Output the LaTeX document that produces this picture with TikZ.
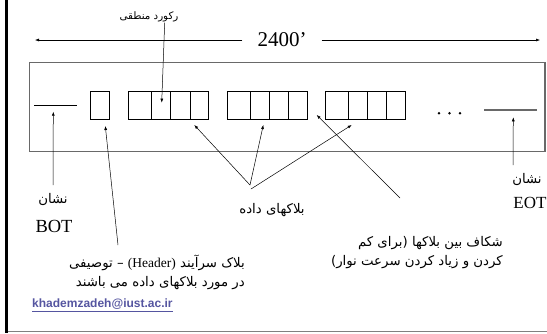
\documentclass[tikz,border=0pt]{standalone}
\usepackage{fontspec}
\setmainfont{Liberation Serif}
\newfontfamily\fa[Script=Arabic]{DejaVu Sans}
\newfontfamily\arial{Liberation Sans}
\TeXXeTstate=1
\usetikzlibrary{arrows.meta}
\definecolor{tapegray}{RGB}{105,105,105}
\definecolor{mailblue}{RGB}{85,85,160}
\begin{document}
\begin{tikzpicture}[x=1pt,y=-1pt,
  conn/.style={draw=black, line width=0.5pt, -{Latex[length=4pt,width=3pt]}},
  cellbox/.style={draw=black, line width=0.8pt, inner sep=0pt, minimum width=80pt, minimum height=28.3pt, anchor=north west},
  falbl/.style={inner sep=0pt, font=\fa\fontsize{13.3}{19}\selectfont},
  latlbl/.style={inner sep=0pt, font=\fontsize{17}{19}\selectfont},
]
\useasboundingbox (0,0) rectangle (547,333);
% frame
\draw[line width=3pt] (6.5,0) -- (6.5,333);
\draw[draw=gray, line width=1.5pt] (8,331.5) -- (547,331.5);
% tape
\draw[draw=tapegray, line width=1.5pt] (29.3,62.7) rectangle (545,151.7);
% length
\node[inner xsep=15pt, inner ysep=0pt, font=\fontsize{21}{24}\selectfont] (len) at (282,40) {2400'};
\coordinate (lenL) at (35,40);
\coordinate (lenR) at (540,40);
\draw[conn] (len.west) -- (lenL);
\draw[conn] (len.east) -- (lenR);
% BOT / EOT markers
\draw[line width=0.8pt] (34,105) -- (76.7,105);
\draw[draw=tapegray, line width=1.2pt] (484.3,110) -- (536.7,110);
% header block
\node[cellbox, minimum width=19pt] (hdr) at (90.3,91) {};
% data blocks
\foreach \bx/\nm in {128.3/b1, 226.7/b2, 325/b3}{
  \node[cellbox] (\nm) at (\bx,91) {};
  \draw[line width=0.8pt] (\bx+23.3,91) -- (\bx+23.3,119.3);
  \draw[line width=0.8pt] (\bx+42.3,91) -- (\bx+42.3,119.3);
  \draw[line width=0.8pt] (\bx+61.7,91) -- (\bx+61.7,119.3);
}
% dots
\foreach \dx in {439,449.5,460}{\fill (\dx,113.3) circle (1.4pt);}
% labels
\node[falbl, font=\fa\fontsize{10.3}{12}\selectfont] (rec) at (149,17) {\beginR رکورد منطقی\endR};
\node[falbl] (bmark) at (53,200) {\beginR نشان\endR};
\node[latlbl, font=\fontsize{18.5}{20}\selectfont] (bot) at (54,226) {BOT};
\node[falbl] (emark) at (527,180) {\beginR نشان\endR};
\node[latlbl] (eot) at (530,203) {EOT};
\node[falbl] (data) at (272,210) {\beginR بلاکهای داده\endR};
\node[falbl, align=right, anchor=east] (hdrtxt) at (245,272.5) {\beginR بلاک سرآیند \beginL{\fontspec{Liberation Serif}\fontsize{13.5}{19}\selectfont(Header)}\endL{} – توصیفی\endR\\\beginR در مورد بلاکهای داده می باشند\endR};
\node[falbl, align=right, anchor=east] (gaptxt) at (503,253) {\beginR شکاف بین بلاکها (برای کم\endR\\\beginR کردن و زیاد کردن سرعت نوار)\endR};
\node[inner sep=0pt, anchor=west, text=mailblue, font=\arial\bfseries\fontsize{12}{14}\selectfont] (mail) at (32,305) {\underline{khademzadeh@iust.ac.ir}};
% connector points
\coordinate (recS) at (164.7,22.7);
\coordinate (recT) at (161.7,102.7);
\coordinate (botS) at (53,185);
\coordinate (botT) at (53.3,111.7);
\coordinate (hdrS) at (118,245);
\coordinate (hdrT) at (105.3,126);
\coordinate (dA) at (250,185);
\coordinate (dB) at (251,189);
\coordinate (b1T) at (194.3,125);
\coordinate (b2T) at (263.3,125);
\coordinate (b3T) at (351.7,125);
\coordinate (gapS) at (400,198);
\coordinate (gapT) at (316.7,115);
\coordinate (eotS) at (513,165);
\coordinate (eotT) at (513.3,117.3);
% connectors
\draw[conn] (recS) -- (recT);
\draw[conn] (botS) -- (botT);
\draw[conn] (hdrS) -- (hdrT);
\draw[conn] (dA) -- (b1T);
\draw[conn] (dA) -- (b2T);
\draw[conn] (dB) -- (b3T);
\draw[conn] (gapS) -- (gapT);
\draw[conn] (eotS) -- (eotT);
\end{tikzpicture}
\end{document}
